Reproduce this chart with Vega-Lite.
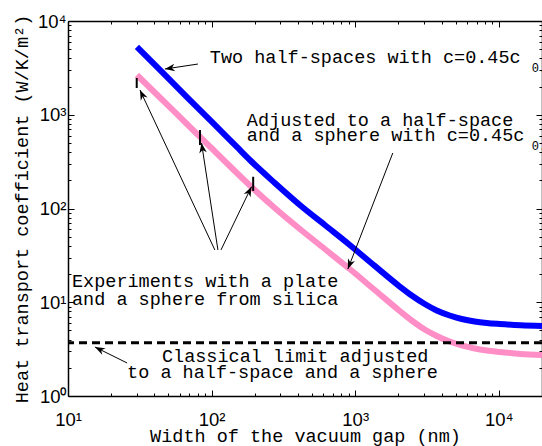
{
  "$schema": "https://vega.github.io/schema/vega-lite/v6.json",
  "width": 474,
  "height": 375,
  "autosize": {"type": "none"},
  "padding": {"left": 68, "top": 21, "right": 0, "bottom": 50},
  "background": "white",
  "config": {
    "view": {"stroke": null},
    "axis": {"grid": false, "domainColor": "black", "domainWidth": 1.5, "tickColor": "black", "tickWidth": 1, "labelColor": "black", "titleColor": "black"}
  },
  "datasets": {
    "blue": [
      {"x": 30.2, "y": 5281}, {"x": 45.1, "y": 2858}, {"x": 67.3, "y": 1546}, {"x": 100.5, "y": 837},
      {"x": 150.0, "y": 453}, {"x": 184.8, "y": 329}, {"x": 275.7, "y": 187}, {"x": 411.7, "y": 109.0},
      {"x": 614.3, "y": 66.7}, {"x": 917, "y": 40.8}, {"x": 1369, "y": 24.4}, {"x": 2044, "y": 14.72},
      {"x": 2476, "y": 11.8}, {"x": 3050, "y": 9.58}, {"x": 3697, "y": 8.17}, {"x": 4553, "y": 7.22},
      {"x": 5518, "y": 6.63}, {"x": 6796, "y": 6.23}, {"x": 8236, "y": 6.01}, {"x": 10145, "y": 5.86},
      {"x": 14205, "y": 5.68}, {"x": 20000, "y": 5.58}
    ],
    "pink": [
      {"x": 30.2, "y": 2655}, {"x": 45.1, "y": 1455}, {"x": 67.3, "y": 797}, {"x": 100.5, "y": 436.5},
      {"x": 150.0, "y": 239.2}, {"x": 184.8, "y": 176}, {"x": 275.7, "y": 101.2}, {"x": 411.7, "y": 60.4},
      {"x": 614.3, "y": 37.0}, {"x": 917, "y": 22.6}, {"x": 1369, "y": 13.51}, {"x": 2044, "y": 8.07},
      {"x": 2476, "y": 6.39}, {"x": 3050, "y": 5.12}, {"x": 3697, "y": 4.37}, {"x": 4553, "y": 3.81},
      {"x": 5518, "y": 3.46}, {"x": 6796, "y": 3.21}, {"x": 8236, "y": 3.06}, {"x": 10145, "y": 2.95},
      {"x": 14205, "y": 2.81}, {"x": 20000, "y": 2.74}
    ],
    "experiments": [
      {"x": 30.1, "ylo": 1928, "yhi": 2466},
      {"x": 83, "ylo": 475, "yhi": 687},
      {"x": 194.8, "ylo": 154, "yhi": 218}
    ],
    "arrows": [
      {"id": "a1", "x": 80.3, "y": 3475, "x2": 47.3, "y2": 3076},
      {"id": "e1", "x": 105.4, "y": 36.1, "x2": 31.7, "y2": 1837},
      {"id": "e2", "x": 110.7, "y": 36.1, "x2": 85.1, "y2": 500},
      {"id": "e3", "x": 116.2, "y": 36.1, "x2": 189.7, "y2": 171},
      {"id": "a3", "x": 1828, "y": 391, "x2": 889, "y2": 22.6},
      {"id": "a4", "x": 25.8, "y": 2.25, "x2": 15.4, "y2": 3.33}
    ],
    "labels": [
      {"text": "Two half-spaces with c=0.45c", "x": 97.2, "y": 3565},
      {"text": "Adjusted to a half-space", "x": 176, "y": 758},
      {"text": "and a sphere with c=0.45c", "x": 176, "y": 525},
      {"text": "Experiments with a plate", "x": 10.66, "y": 14.4},
      {"text": "and a sphere from silica", "x": 10.66, "y": 9.35},
      {"text": "Classical limit adjusted", "x": 45.1, "y": 2.31},
      {"text": "to a half-space and a sphere", "x": 25.8, "y": 1.54}
    ],
    "subs": [
      {"text": "0.", "x": 16950, "y": 2858},
      {"text": "0.", "x": 16950, "y": 421}
    ],
    "limit": [{"y": 3.7}]
  },
  "layer": [
    {
      "data": {"name": "blue"},
      "mark": {"type": "line", "color": "#0000ff", "strokeWidth": 6, "interpolate": "monotone", "clip": true},
      "encoding": {
        "x": {"field": "x", "type": "quantitative", "scale": {"type": "log", "domain": [10, 20000], "nice": false},
          "axis": {"orient": "bottom", "values": [10,20,30,40,50,60,70,80,90,100,200,300,400,500,600,700,800,900,1000,2000,3000,4000,5000,6000,7000,8000,9000,10000,20000],
            "labelExpr": "abs(log(datum.value)/LN10 - round(log(datum.value)/LN10)) < 0.001 ? '10' + ['⁰','¹','²','³','⁴','⁵'][round(log(datum.value)/LN10)] : ''",
            "labelFont": "Liberation Sans", "labelFontSize": 18.5, "labelBaseline": "alphabetic", "labelAlign": "center", "labelPadding": 35, "labelFlush": false, "labelOverlap": false,
            "tickSize": {"condition": {"test": "abs(log(datum.value)/LN10 - round(log(datum.value)/LN10)) < 0.001", "value": -6}, "value": -3},
            "title": "Width of the vacuum gap (nm)", "titleFont": "Liberation Mono", "titleFontSize": 18.5, "titleFontWeight": "normal",
            "titleX": 237, "titleY": 45, "titleBaseline": "alphabetic", "titleAlign": "center"}},
        "y": {"field": "y", "type": "quantitative", "scale": {"type": "log", "domain": [1, 10000], "nice": false},
          "axis": {"orient": "left", "values": [1,2,3,4,5,6,7,8,9,10,20,30,40,50,60,70,80,90,100,200,300,400,500,600,700,800,900,1000,2000,3000,4000,5000,6000,7000,8000,9000,10000],
            "labelExpr": "abs(log(datum.value)/LN10 - round(log(datum.value)/LN10)) < 0.001 ? '10' + ['⁰','¹','²','³','⁴','⁵'][round(log(datum.value)/LN10)] : ''",
            "labelFont": "Liberation Sans", "labelFontSize": 18.5, "labelBaseline": "middle", "labelAlign": "right", "labelPadding": 8, "labelFlush": false, "labelOverlap": false,
            "tickSize": {"condition": {"test": "abs(log(datum.value)/LN10 - round(log(datum.value)/LN10)) < 0.001", "value": -6}, "value": -3},
            "title": "Heat transport coefficient (W/K/m²)", "titleFont": "Liberation Mono", "titleFontSize": 18.5, "titleFontWeight": "normal",
            "titleAngle": -90, "titleX": -41, "titleY": 187.5, "titleBaseline": "alphabetic", "titleAlign": "center"}}
      }
    },
    {
      "data": {"name": "pink"},
      "mark": {"type": "line", "color": "#ff8ec6", "strokeWidth": 6, "interpolate": "monotone", "clip": true},
      "encoding": {
        "x": {"field": "x", "type": "quantitative",
          "axis": {"orient": "top", "values": [10,20,30,40,50,60,70,80,90,100,200,300,400,500,600,700,800,900,1000,2000,3000,4000,5000,6000,7000,8000,9000,10000,20000],
            "labels": false, "title": null,
            "tickSize": {"condition": {"test": "abs(log(datum.value)/LN10 - round(log(datum.value)/LN10)) < 0.001", "value": -6}, "value": -3}}},
        "y": {"field": "y", "type": "quantitative",
          "axis": {"orient": "right", "values": [1,2,3,4,5,6,7,8,9,10,20,30,40,50,60,70,80,90,100,200,300,400,500,600,700,800,900,1000,2000,3000,4000,5000,6000,7000,8000,9000,10000],
            "labels": false, "title": null,
            "tickSize": {"condition": {"test": "abs(log(datum.value)/LN10 - round(log(datum.value)/LN10)) < 0.001", "value": -6}, "value": -3}}}
      }
    },
    {
      "data": {"name": "limit"},
      "mark": {"type": "rule", "color": "black", "strokeWidth": 3, "strokeDash": [8, 5]},
      "encoding": {"y": {"field": "y", "type": "quantitative", "axis": null}}
    },
    {
      "data": {"name": "experiments"},
      "mark": {"type": "rule", "color": "black", "strokeWidth": 2},
      "encoding": {
        "x": {"field": "x", "type": "quantitative", "axis": null},
        "y": {"field": "ylo", "type": "quantitative", "axis": null},
        "y2": {"field": "yhi"}
      }
    },
    {
      "data": {"name": "arrows"},
      "mark": {"type": "rule", "color": "black", "strokeWidth": 1},
      "encoding": {
        "x": {"field": "x", "type": "quantitative", "axis": null},
        "y": {"field": "y", "type": "quantitative", "axis": null},
        "x2": {"field": "x2"},
        "y2": {"field": "y2"}
      }
    },
    {
      "data": {"name": "arrows"}, "transform": [{"filter": "datum.id == 'a1'"}],
      "mark": {"type": "point", "shape": "M0,0L-2,-0.75L-1.4,0L-2,0.75Z", "filled": true, "color": "black", "opacity": 1, "size": 100, "angle": 171.4},
      "encoding": {"x": {"field": "x2", "type": "quantitative", "axis": null}, "y": {"field": "y2", "type": "quantitative", "axis": null}}
    },
    {
      "data": {"name": "arrows"}, "transform": [{"filter": "datum.id == 'e1'"}],
      "mark": {"type": "point", "shape": "M0,0L-2,-0.75L-1.4,0L-2,0.75Z", "filled": true, "color": "black", "opacity": 1, "size": 100, "angle": 244.9},
      "encoding": {"x": {"field": "x2", "type": "quantitative", "axis": null}, "y": {"field": "y2", "type": "quantitative", "axis": null}}
    },
    {
      "data": {"name": "arrows"}, "transform": [{"filter": "datum.id == 'e2'"}],
      "mark": {"type": "point", "shape": "M0,0L-2,-0.75L-1.4,0L-2,0.75Z", "filled": true, "color": "black", "opacity": 1, "size": 100, "angle": 261.3},
      "encoding": {"x": {"field": "x2", "type": "quantitative", "axis": null}, "y": {"field": "y2", "type": "quantitative", "axis": null}}
    },
    {
      "data": {"name": "arrows"}, "transform": [{"filter": "datum.id == 'e3'"}],
      "mark": {"type": "point", "shape": "M0,0L-2,-0.75L-1.4,0L-2,0.75Z", "filled": true, "color": "black", "opacity": 1, "size": 100, "angle": 295.9},
      "encoding": {"x": {"field": "x2", "type": "quantitative", "axis": null}, "y": {"field": "y2", "type": "quantitative", "axis": null}}
    },
    {
      "data": {"name": "arrows"}, "transform": [{"filter": "datum.id == 'a3'"}],
      "mark": {"type": "point", "shape": "M0,0L-2,-0.75L-1.4,0L-2,0.75Z", "filled": true, "color": "black", "opacity": 1, "size": 100, "angle": 111.2},
      "encoding": {"x": {"field": "x2", "type": "quantitative", "axis": null}, "y": {"field": "y2", "type": "quantitative", "axis": null}}
    },
    {
      "data": {"name": "arrows"}, "transform": [{"filter": "datum.id == 'a4'"}],
      "mark": {"type": "point", "shape": "M0,0L-2,-0.75L-1.4,0L-2,0.75Z", "filled": true, "color": "black", "opacity": 1, "size": 100, "angle": 206.6},
      "encoding": {"x": {"field": "x2", "type": "quantitative", "axis": null}, "y": {"field": "y2", "type": "quantitative", "axis": null}}
    },
    {
      "data": {"name": "labels"},
      "mark": {"type": "text", "font": "Liberation Mono", "fontSize": 18.5, "align": "left", "baseline": "alphabetic", "color": "black"},
      "encoding": {
        "x": {"field": "x", "type": "quantitative", "axis": null},
        "y": {"field": "y", "type": "quantitative", "axis": null},
        "text": {"field": "text"}
      }
    },
    {
      "data": {"name": "subs"},
      "mark": {"type": "text", "font": "Liberation Mono", "fontSize": 12, "align": "left", "baseline": "alphabetic", "color": "black"},
      "encoding": {
        "x": {"field": "x", "type": "quantitative", "axis": null},
        "y": {"field": "y", "type": "quantitative", "axis": null},
        "text": {"field": "text"}
      }
    }
  ],
  "resolve": {"axis": {"x": "independent", "y": "independent"}}
}
